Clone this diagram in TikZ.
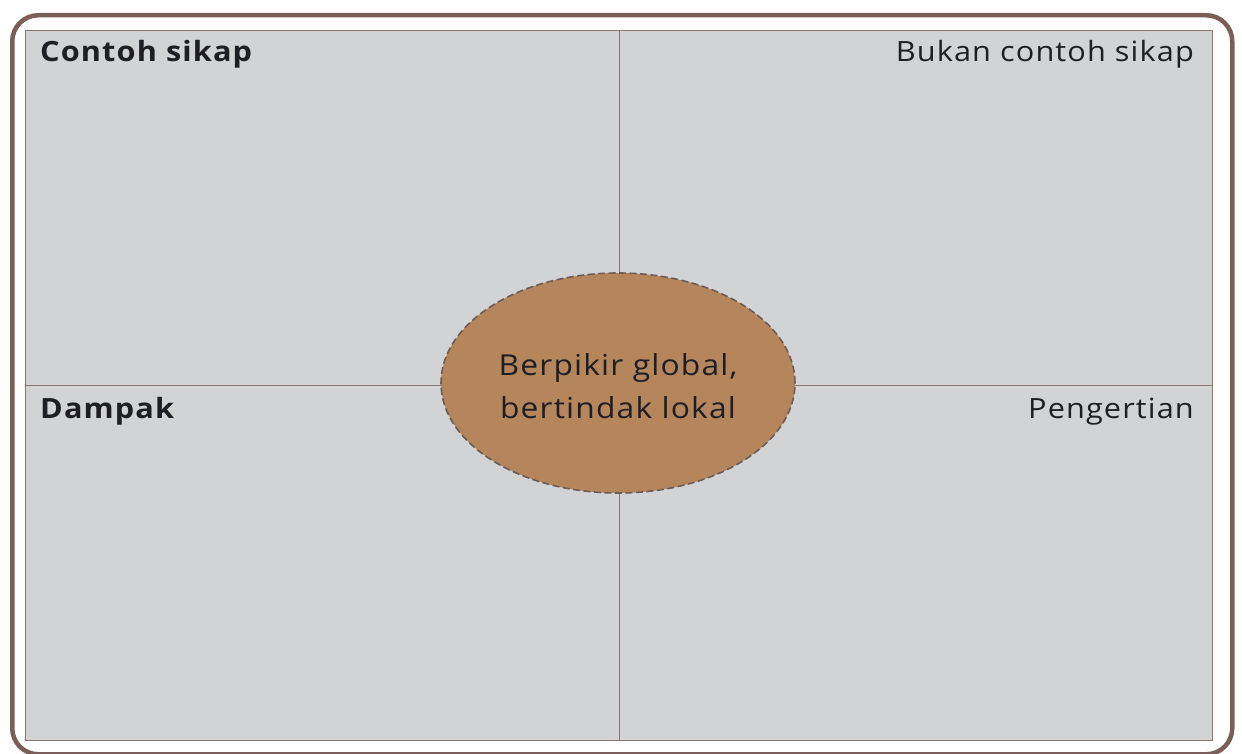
\documentclass[tikz,border=0pt]{standalone}
\usepackage{fontspec}
\setmainfont{Open Sans}[FakeStretch=1.1, LetterSpace=4]
\usetikzlibrary{shapes.geometric}
\definecolor{frame}{HTML}{7A5E57}
\definecolor{gridline}{HTML}{8E746E}
\definecolor{board}{HTML}{D1D3D4}
\definecolor{ovalfill}{HTML}{B5855C}
\definecolor{ovalline}{HTML}{6E5C58}
\definecolor{txt}{HTML}{1E1E24}
\tikzset{
  lbl/.style={text=txt, font=\fontsize{28}{32}\selectfont, inner sep=0pt},
  boldlbl/.style={lbl, font=\fontsize{28}{32}\selectfont\bfseries},
  divider/.style={draw=gridline, line width=1bp},
}
\begin{document}
\begin{tikzpicture}[x=1bp,y=-1bp]
\useasboundingbox (0,0) rectangle (1242,754);
\node[draw=frame, line width=4.5bp, rounded corners=26bp, minimum width=1220bp, minimum height=739bp, anchor=north west, inner sep=0pt] (frame) at (10,13) {};
\node[fill=board, draw=gridline, line width=1.2bp, minimum width=1187bp, minimum height=710bp, anchor=north west, inner sep=0pt] (board) at (25,30) {};
\draw[divider] (board.north) -- (board.south);
\draw[divider] (board.west) -- (board.east);
\node[ellipse, fill=ovalfill, draw=ovalline, dashed, dash pattern=on 7bp off 3.5bp, line width=1.6bp, minimum width=354bp, minimum height=220bp, inner sep=0pt] (oval) at (618,383) {};
\node[lbl, align=center, font=\fontsize{29}{43}\selectfont, anchor=base] (center) at (618,418) {Berpikir global,\\bertindak lokal};
\node[boldlbl, anchor=base west] (contoh) at (40,62) {Contoh sikap};
\node[lbl, anchor=base east] (bukan) at (1194,62) {Bukan contoh sikap};
\node[boldlbl, anchor=base west] (dampak) at (40,418) {Dampak};
\node[lbl, anchor=base east] (pengertian) at (1194,418) {Pengertian};
\end{tikzpicture}
\end{document}
